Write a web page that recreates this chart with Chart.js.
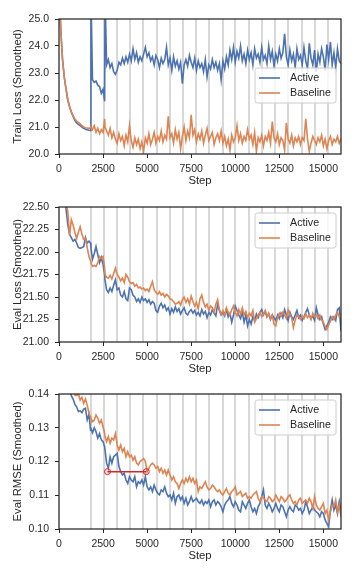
<!DOCTYPE html>
<html><head><meta charset="utf-8">
<script src="https://cdn.jsdelivr.net/npm/chart.js@4.4.0/dist/chart.umd.min.js"></script>
<style>
html,body{margin:0;padding:0;background:#fff;width:360px;height:576px;overflow:hidden;}
.p{position:absolute;left:0;width:360px;height:188px;}
</style></head><body>
<div class="p" style="top:0"><canvas id="c1"></canvas></div>
<div class="p" style="top:188px"><canvas id="c2"></canvas></div>
<div class="p" style="top:375px"><canvas id="c3"></canvas></div>
<script>
const steps = [0,100,200,300,400,500,600,700,800,900,1000,1100,1200,1300,1400,1500,1600,1700,
1790,1810,1900,2000,2100,2200,2300,2400,2500,2590,2610,
2700,2800,2900,3000,3100,3200,3300,3400,3500,3600,
3700,3800,3900,4000,4100,4200,4300,4400,4500,4600,
4700,4800,4900,5000,5100,5200,5300,5400,5500,5600,
5700,5800,5900,6000,6100,6200,6300,6400,6500,6600,
6700,6800,6900,7000,7100,7200,7300,7400,7500,7600,
7700,7800,7900,8000,8100,8200,8300,8400,8500,8600,
8700,8800,8900,9000,9100,9200,9300,9400,9500,9600,
9700,9800,9900,10000,10100,10200,10300,10400,10500,10600,
10700,10800,10900,11000,11100,11200,11300,11400,11500,11600,
11700,11800,11900,12000,12100,12200,12300,12400,12500,12600,
12700,12800,12900,13000,13100,13200,13300,13400,13500,13600,
13700,13800,13900,14000,14100,14200,14300,14400,14500,14600,
14700,14800,14900,15000,15100,15200,15300,15400,15500,15600,
15700,15800,15900,16000];

const trainActive = [26.5,24.6,23.5,22.85,22.4,22.0,21.75,21.55,21.4,21.25,21.15,21.1,21.05,21.0,20.95,20.92,20.9,20.88,
20.87,26,22.75,22.65,22.7,22.55,22.5,22.25,22.4,21.95,26,
23.3,23.5,23.2,23.35,23.05,22.95,23.1,23.4,23.3,23.55,
23.35,23.6,23.4,23.7,23.45,23.9,23.5,23.75,23.4,23.6,
23.45,23.7,23.95,23.6,23.75,23.45,23.6,23.3,23.65,23.5,
23.2,23.55,23.35,23.5,23.95,23.3,23.55,23.1,23.6,23.25,
23.45,23.15,23.4,22.6,23.3,23.5,23.25,23.65,23.4,23.2,
23.55,23.1,23.45,23.2,23.35,23.05,23.5,22.85,23.3,23.15,
23.5,23.2,23.4,23.1,23.35,22.75,23.45,23.15,23.6,23.3,
23.85,23.5,23.95,23.4,23.8,23.55,24.0,23.45,23.7,23.35,
23.85,23.5,23.75,23.3,23.9,23.55,23.7,23.4,23.95,23.5,
23.65,23.35,24.0,23.5,23.8,23.25,23.7,23.45,23.9,23.55,
23.75,24.45,23.6,23.3,23.85,23.45,23.7,23.2,23.9,23.5,
23.65,23.3,23.95,23.45,23.15,24.1,23.55,23.3,23.85,23.05,
23.7,23.4,23.9,23.6,23.1,24.05,23.5,24.15,23.3,23.75,
23.2,23.9,23.45,23.35];

const trainBaseline = [26.5,24.6,23.5,22.85,22.4,22.0,21.75,21.57,21.42,21.3,21.22,21.17,21.12,21.05,21.0,20.97,20.96,20.95,
20.97,21.0,20.9,21.05,20.8,20.95,20.75,20.9,20.8,21.3,21.0,
20.85,20.7,20.95,20.6,20.8,20.55,20.4,20.75,20.5,20.65,
20.3,20.7,20.45,21.05,20.5,20.25,20.6,20.35,20.55,20.2,
20.45,20.1,20.6,20.4,20.75,20.35,20.55,20.8,20.4,20.65,
20.5,20.85,20.45,20.7,20.55,21.4,20.6,20.75,20.4,20.9,
20.55,20.8,20.2,20.65,21.0,20.5,20.85,20.6,21.45,20.7,
20.9,20.45,20.75,20.55,20.85,20.4,20.7,20.95,20.5,20.65,
20.8,20.35,20.6,20.75,20.5,20.85,20.4,20.65,20.3,20.55,
20.15,20.7,20.45,20.6,21.05,20.5,20.75,20.4,20.65,20.5,
20.9,20.55,20.7,20.35,20.8,20.1,20.6,20.45,20.7,20.3,
20.65,20.5,20.8,20.4,21.2,20.6,20.45,20.75,20.35,20.6,
20.5,20.15,21.15,20.55,20.4,20.7,20.3,20.6,20.45,20.65,
20.35,20.6,20.5,21.3,20.55,20.1,20.4,20.65,20.5,20.35,
20.6,20.45,20.7,20.3,20.55,20.2,20.5,20.65,20.35,20.55,
20.45,20.65,20.4,20.55];

const evalActive = [23.4,23.1,22.85,22.65,22.48,22.3,22.2,22.16,22.12,22.14,22.1,22.05,22.04,22.05,22.06,22.16,22.1,22.12,
22.1,22.05,21.92,21.98,22.06,21.97,21.88,21.94,21.86,21.75,21.69,
21.58,21.55,21.6,21.56,21.63,21.69,21.58,21.6,21.52,21.5,
21.56,21.48,21.46,21.6,21.58,21.52,21.5,21.45,21.48,21.44,
21.5,21.46,21.48,21.44,21.47,21.42,21.45,21.43,21.35,21.33,
21.4,21.43,21.38,21.41,21.35,21.38,21.31,21.37,21.33,21.39,
21.34,21.37,21.31,21.35,21.38,21.32,21.3,21.34,21.36,21.32,
21.35,21.3,21.33,21.29,21.36,21.31,21.34,21.27,21.33,21.3,
21.36,21.32,21.29,21.42,21.35,21.3,21.33,21.29,21.36,21.28,
21.32,21.22,21.3,21.4,21.35,21.3,21.26,21.33,21.22,21.3,
21.18,21.25,21.2,21.28,21.24,21.31,21.27,21.33,21.36,21.3,
21.34,21.28,21.31,21.25,21.3,21.27,21.24,21.3,21.26,21.32,
21.27,21.36,21.3,21.24,21.33,21.28,21.25,21.3,21.35,21.27,
21.3,21.24,21.28,21.33,21.37,21.3,21.26,21.29,21.24,21.38,
21.3,21.25,21.28,21.2,21.14,21.18,21.22,21.28,21.25,21.28,
21.24,21.36,21.38,21.12];

const evalBaseline = [23.5,23.2,22.95,22.75,22.55,22.45,22.18,22.36,22.3,22.22,22.15,22.22,22.28,22.2,22.14,22.15,22.05,21.95,
21.9,21.88,21.84,21.85,21.84,21.88,21.95,21.93,21.95,21.82,21.75,
21.72,21.71,21.74,21.7,21.76,21.82,21.75,21.72,21.68,21.71,
21.66,21.75,21.72,21.67,21.65,21.66,21.62,21.64,21.6,21.61,
21.59,21.6,21.57,21.59,21.56,21.62,21.67,21.58,21.55,21.53,
21.56,21.52,21.54,21.5,21.53,21.51,21.48,21.47,21.45,21.42,
21.43,21.45,21.41,21.47,21.5,21.44,21.48,21.42,21.51,21.45,
21.4,21.44,21.37,21.48,21.52,21.44,21.39,21.42,21.35,21.4,
21.38,21.33,21.42,21.47,21.36,21.31,21.35,21.3,21.38,21.33,
21.3,21.36,21.4,21.33,21.29,21.36,21.31,21.38,21.3,21.34,
21.27,21.32,21.29,21.35,21.22,21.26,21.3,21.33,21.28,21.31,
21.35,21.28,21.32,21.26,21.3,21.2,21.18,21.27,21.32,21.29,
21.33,21.3,21.26,21.36,21.3,21.27,21.16,21.24,21.3,21.28,
21.25,21.29,21.26,21.31,21.27,21.3,21.25,21.32,21.28,21.3,
21.26,21.3,21.24,21.22,21.17,21.14,21.19,21.23,21.28,21.25,
21.3,21.33,21.28,21.3];

const rmseActive = [0.16,0.156,0.152,0.149,0.146,0.1435,0.1415,0.1395,0.1385,0.137,0.1362,0.1348,0.135,0.1345,0.1355,0.1358,0.1323,0.134,
0.1293,0.1298,0.1285,0.130,0.1288,0.1269,0.1283,0.1264,0.1259,0.1244,0.1235,
0.1195,0.118,0.1214,0.1195,0.1214,0.1219,0.1224,0.1185,0.117,0.116,
0.1165,0.1145,0.1135,0.1155,0.1145,0.114,0.1155,0.1125,0.114,0.1135,
0.1145,0.113,0.1155,0.1125,0.1116,0.1125,0.1111,0.113,0.1116,0.1106,
0.1101,0.1116,0.1111,0.1125,0.1106,0.1096,0.1101,0.1086,0.1106,0.1076,
0.1096,0.1101,0.1086,0.1096,0.1076,0.1091,0.1071,0.1081,0.1096,0.1081,
0.1086,0.1091,0.1081,0.1076,0.1086,0.1071,0.1081,0.1076,0.1086,0.1066,
0.1081,0.1086,0.1071,0.1081,0.1076,0.1066,0.1051,0.1071,0.1081,0.1086,
0.1096,0.1076,0.1066,0.1081,0.1071,0.1056,0.1051,0.1081,0.1071,0.1061,
0.1076,0.1086,0.1066,0.1051,0.1061,0.1046,0.1066,0.1076,0.1096,0.1116,
0.1071,0.1061,0.1076,0.1066,0.1051,0.1061,0.1076,0.1061,0.1051,0.1071,
0.1066,0.1051,0.1036,0.1056,0.1066,0.1056,0.1051,0.1071,0.1066,0.1056,
0.1061,0.1046,0.1056,0.1081,0.1066,0.1046,0.1056,0.1066,0.1056,0.1051,
0.1046,0.1036,0.1051,0.1046,0.1027,0.1017,0.1007,0.1056,0.1086,0.1056,
0.1071,0.1046,0.1081,0.1051];

const rmseBaseline = [0.165,0.16,0.156,0.152,0.149,0.146,0.144,0.1425,0.1412,0.1397,0.1395,0.14,0.1382,0.139,0.1372,0.1385,0.1367,0.1343,
0.1333,0.1328,0.1318,0.1323,0.1338,0.1328,0.1313,0.1323,0.1303,0.1283,0.1274,
0.1259,0.1274,0.1254,0.1269,0.1264,0.1283,0.1249,0.1234,0.1249,0.1229,
0.1239,0.1214,0.1229,0.1214,0.1219,0.1204,0.1214,0.1195,0.119,0.12,
0.1204,0.1209,0.12,0.117,0.118,0.119,0.1195,0.119,0.118,0.1185,
0.117,0.118,0.1165,0.1175,0.116,0.1175,0.116,0.1145,0.1155,0.114,
0.1135,0.112,0.1135,0.1145,0.1135,0.115,0.114,0.1155,0.114,0.115,
0.1135,0.1145,0.1111,0.1125,0.112,0.113,0.114,0.1125,0.1116,0.112,
0.113,0.1125,0.1116,0.1111,0.1116,0.1106,0.1101,0.1111,0.112,0.1106,
0.1101,0.1111,0.1116,0.1125,0.1101,0.1106,0.1111,0.1096,0.1101,0.1106,
0.1091,0.1096,0.1091,0.1101,0.1106,0.1111,0.1091,0.1081,0.1096,0.1091,
0.1086,0.1081,0.1096,0.1091,0.1081,0.1086,0.1101,0.1091,0.1081,0.1096,
0.1091,0.1081,0.1086,0.1096,0.1101,0.1086,0.1076,0.1081,0.1071,0.1086,
0.1091,0.1076,0.1081,0.1086,0.1076,0.1091,0.1081,0.1061,0.1096,0.1071,
0.1061,0.1056,0.1066,0.1076,0.1046,0.1056,0.1027,0.1051,0.1071,0.1066,
0.1086,0.1051,0.1071,0.1036];

const checkpointSteps = [1800,2550,3270,4030,4780,5540,6300,7020,7770,8520,9280,10000,10760,11510,12270,13020,13780,14500,15260];
const xTickValues = [0,2500,5000,7500,10000,12500,15000];
const trainTicks = [20,21,22,23,24,25];
const evalTicks = [21,21.25,21.5,21.75,22,22.25,22.5];
const rmseTicks = [0.10,0.11,0.12,0.13,0.14];
const gapSteps = [2750,4950];
const gapValues = [0.117,0.117];

const BLUE = '#4c72b0', ORANGE = '#dd8452', TXT = '#262626';
const FONT = "'Liberation Sans', Arial, sans-serif";
Chart.defaults.font.family = FONT;
Chart.defaults.color = TXT;

function toXY(xs, ys){ const out=[]; for(let i=0;i<xs.length;i++){ if(ys[i]!==undefined) out.push({x:xs[i],y:ys[i]}); } return out; }

const checkpointPlugin = {
  id:'checkpoints',
  beforeDatasetsDraw(chart){
    const {ctx, chartArea:a, scales:{x}} = chart;
    ctx.save();
    ctx.strokeStyle = '#d8d8d8'; ctx.lineWidth = 2;
    checkpointSteps.forEach(v=>{
      const px = Math.round(x.getPixelForValue(v));
      ctx.beginPath(); ctx.moveTo(px, a.top); ctx.lineTo(px, a.bottom); ctx.stroke();
    });
    ctx.restore();
  }
};
const framePlugin = {
  id:'frame',
  afterDatasetsDraw(chart){
    const {ctx, chartArea:a} = chart;
    ctx.save(); ctx.strokeStyle = TXT; ctx.lineWidth = 1.25;
    ctx.strokeRect(a.left, a.top, a.right-a.left, a.bottom-a.top);
    ctx.restore();
  }
};
const boxLegend = {
  id:'boxLegend',
  afterDraw(chart, args, opts){
    const {ctx, chartArea:a} = chart;
    const w = 81, h = 35;
    const left = a.right - 5 - w, top = a.top + opts.top;
    ctx.save();
    ctx.beginPath();
    const r = 2.5;
    ctx.moveTo(left+r, top); ctx.lineTo(left+w-r, top); ctx.arcTo(left+w, top, left+w, top+r, r);
    ctx.lineTo(left+w, top+h-r); ctx.arcTo(left+w, top+h, left+w-r, top+h, r);
    ctx.lineTo(left+r, top+h); ctx.arcTo(left, top+h, left, top+h-r, r);
    ctx.lineTo(left, top+r); ctx.arcTo(left, top, left+r, top, r); ctx.closePath();
    ctx.fillStyle = 'rgba(255,255,255,0.8)'; ctx.fill();
    ctx.strokeStyle = '#cccccc'; ctx.lineWidth = 1; ctx.stroke();
    const items = chart.data.datasets.filter(d=>d.label);
    items.forEach((d,i)=>{
      const y = top + 10 + i*15;
      ctx.strokeStyle = d.borderColor; ctx.lineWidth = 1.6;
      ctx.beginPath(); ctx.moveTo(left+4, y); ctx.lineTo(left+25, y); ctx.stroke();
      ctx.fillStyle = TXT; ctx.font = "10.7px " + FONT; ctx.textBaseline = 'middle'; ctx.textAlign='left';
      ctx.fillText(d.label, left+35, y+0.5);
    });
    ctx.restore();
  }
};

function makeChart(id, yTitle, yMin, yMax, yTicks, dec, active, baseline, legendTop, extra){
  const datasets = [
    {label:'Active', data: toXY(steps, active), borderColor: BLUE, borderWidth:1.6, pointRadius:0, tension:0, order:1},
    {label:'Baseline', data: toXY(steps, baseline), borderColor: ORANGE, borderWidth:1.6, pointRadius:0, tension:0, order:0}
  ];
  if (extra) datasets.push(extra);
  return new Chart(document.getElementById(id), {
    type:'line',
    data:{datasets},
    options:{
      responsive:true, maintainAspectRatio:false, animation:false,
      layout:{padding:{top:19,right:19,left:0,bottom:0}},
      plugins:{legend:{display:false}, tooltip:{enabled:false}, boxLegend:{top:legendTop}},
      scales:{
        x:{type:'linear', position:'bottom', min:0, max:16000,
          afterBuildTicks: s=>{ s.ticks = xTickValues.map(v=>({value:v})); },
          ticks:{callback:v=>String(v), font:{size:10.5}, color:TXT, padding:5, maxRotation:0, autoSkip:false},
          grid:{display:true, drawOnChartArea:false, drawTicks:true, tickLength:4, color:TXT, lineWidth:1},
          border:{display:false},
          title:{display:true, text:'Step', font:{size:11.3}, color:TXT, padding:{top:0,bottom:0}},
          afterFit: s=>{ s.height = 34; }
        },
        y:{type:'linear', position:'left', min:yMin, max:yMax,
          afterBuildTicks: s=>{ s.ticks = yTicks.map(v=>({value:v})); },
          ticks:{callback:v=>Number(v).toFixed(dec), font:{size:10.5}, color:TXT, padding:6, autoSkip:false},
          grid:{display:true, drawOnChartArea:false, drawTicks:true, tickLength:4, color:TXT, lineWidth:1},
          border:{display:false},
          title:{display:true, text:yTitle, font:{size:11.3}, color:TXT, padding:{top:11,bottom:0}},
          afterFit: s=>{ s.width = 59; }
        }
      }
    },
    plugins:[checkpointPlugin, framePlugin, boxLegend]
  });
}

makeChart('c1','Train Loss (Smoothed)',20,25,trainTicks,1,trainActive,trainBaseline,49,null);
makeChart('c2','Eval Loss (Smoothed)',21,22.5,evalTicks,2,evalActive,evalBaseline,6,null);
makeChart('c3','Eval RMSE (Smoothed)',0.10,0.14,rmseTicks,2,rmseActive,rmseBaseline,6,
  {label:'', data: toXY(gapSteps, gapValues), borderColor:'#d62728', borderWidth:1.5, pointRadius:3,
   pointBorderColor:'#d62728', pointBackgroundColor:'rgba(214,39,40,0.15)', pointBorderWidth:1, tension:0, order:-1});
</script>
</body></html>
